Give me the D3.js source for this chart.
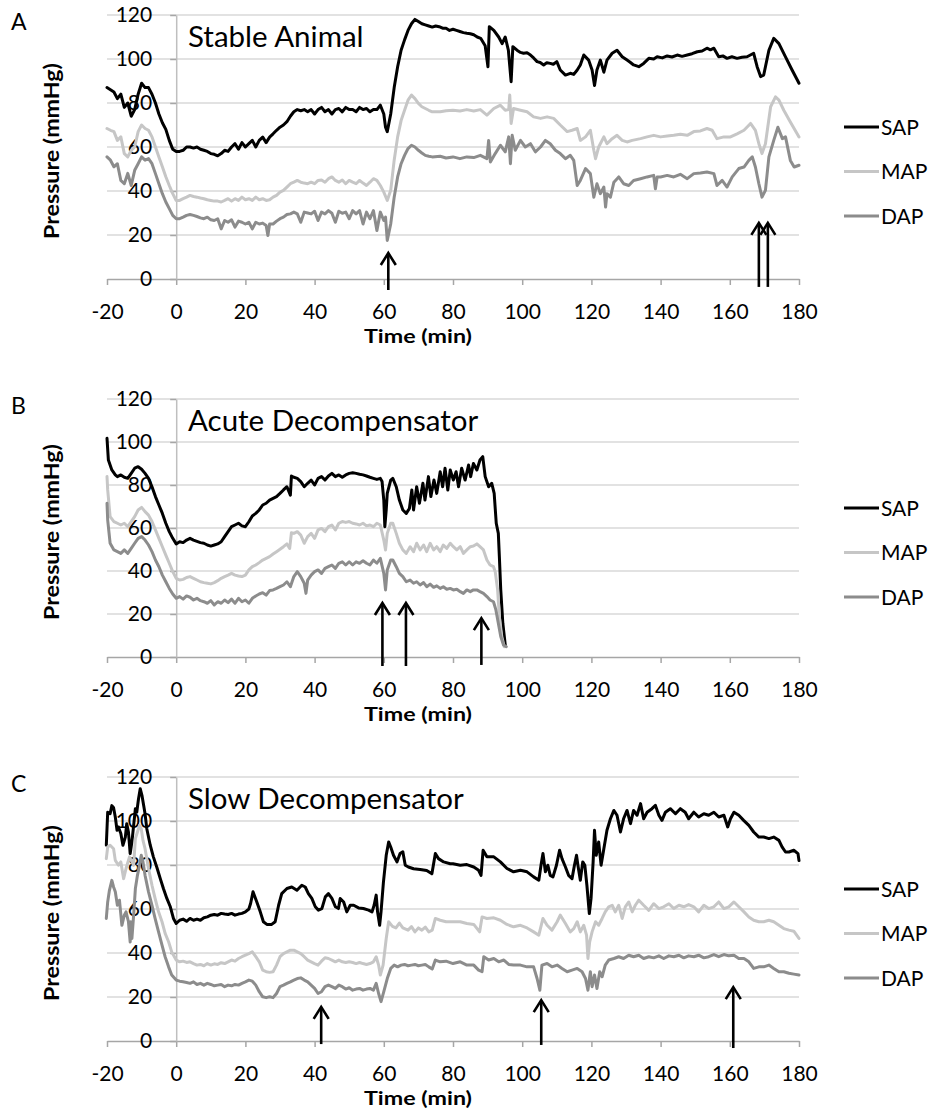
<!DOCTYPE html>
<html>
<head>
<meta charset="utf-8">
<script src="https://cdn.jsdelivr.net/npm/d3@7"></script>
<style>
  body { margin: 0; background: #fff; }
  svg { display: block; font-family: Lato, "Open Sans", sans-serif; }
</style>
</head>
<body>
<div id="chart"></div>
<script>
// axis ticks
const timeTicks = [-20, 0, 20, 40, 60, 80, 100, 120, 140, 160, 180];
const pressureTicks = [0, 20, 40, 60, 80, 100, 120];
const seriesNames = ["SAP", "MAP", "DAP"];

// [time (min), pressure (mmHg)]
// A - stable animal
const sapA = [[-20,87],[-19,86],[-18,85],[-17,82],[-16,84],[-15,78],[-14,80],[-13,74],[-12,77],[-11,84],[-10,89],[-9,87],[-8,87],[-7,84],[-6,80],[-5,75],[-4,71],[-3,68],[-2,63],[-1,59],[0,58],[1,58],[2,58.5],[3,60],[4,60],[5,59.5],[6,60],[7,59],[8,58.5],[9,58],[10,57],[11,56.7],[12,56],[13,57],[14,58.5],[15,58],[16,60],[17,61.5],[18,59],[19,62],[20,60],[21,61.5],[22,63],[23,60],[24,63],[25,64.5],[26,62],[27,64.5],[28,66],[29,67.6],[30,69],[31,70],[32,71.5],[33,74],[34,76],[35,77],[36,76.5],[37,77],[38,76],[39,77],[40,75],[41,77],[42,78],[43,76],[44,77],[45,75],[46,77],[47,77.5],[48,76],[49,78],[50,77],[51,77],[52,76],[53,78],[54,77],[55,77.5],[56,76],[57,77],[58,77],[59,79],[60,75],[60.5,69],[61,67],[62,75],[63,87],[64,96.5],[65,104],[66,108.7],[67,113],[68,116],[69,118],[70,117],[71,116],[72,115.5],[73,115],[74,114.5],[75,115],[76,114.7],[77,114],[78,114],[79,113],[80,113.5],[81,113],[82,112.5],[83,112],[84,111.7],[85,111.5],[86,111],[87,110],[88,109.4],[89.3,106],[90.1,96.5],[90.5,114.7],[91.8,113],[93.2,110],[94.2,107],[95.1,110],[96,104],[96.8,89.7],[97.3,105.6],[98.5,104],[99.5,103],[100.4,102.6],[101.4,102.8],[102.4,101.8],[103.3,100.5],[104.3,98.8],[105.2,98.4],[106.2,97.3],[107.1,98.3],[108.1,98],[109,97.6],[110,98.8],[111,95],[112.5,92.7],[113.9,93.5],[114.9,93],[115.9,95],[116.8,97.3],[117.8,101.8],[119.2,99.5],[120.2,95],[120.9,88],[121.6,95],[122.6,99.5],[123.6,94],[124.5,99.5],[126,102.6],[127.4,104],[128.9,101],[130.3,99.5],[131.2,98.5],[132.2,97.3],[133.7,96.5],[135.1,98],[136.6,100.3],[138,100],[139,101],[140.5,100.5],[141.9,101.4],[143.3,100.9],[144.8,101.8],[146.2,101.2],[147.7,101.8],[149.1,102.4],[150.6,103.3],[152,103.6],[153.4,104.9],[154.4,104.2],[155.4,104.9],[156.8,101],[158,101.4],[159.2,100.3],[160.6,101],[162.1,100.3],[163.5,100.8],[165,101],[166.9,102.6],[167.9,96.5],[168.9,92],[169.8,92.7],[171.3,104],[172.7,109.4],[174.2,107],[176.1,101],[178,95],[180,89]];
const mapA = [[-20,68.4],[-19,67.6],[-18,67],[-17,63],[-16,64.6],[-15,57],[-14,55.5],[-13,58.5],[-12,60],[-11,67],[-10,70],[-9,68.4],[-8,67.6],[-7,64.6],[-6,60],[-5,55.5],[-4,51],[-3,46.5],[-2,42.5],[-1,38.8],[0,35.7],[1,35.7],[2,36.5],[3,37.2],[4,38],[5,37.5],[6,37.2],[7,36.8],[8,36.5],[9,36],[10,35.7],[11,35.4],[12,35.4],[13,35],[14,35.7],[15,36.5],[16,35.4],[17,36.5],[18,35.7],[19,37.2],[20,36],[21,36.5],[22,35.7],[23,37.2],[24,36],[25,36.5],[26,35.7],[27,36],[28,37.2],[29,38],[30,39.5],[31,40.3],[32,41.8],[33,43.3],[34,44],[35,44.8],[36,44],[37,43.6],[38,43.3],[39,44],[40,43.3],[41,44.8],[42,45],[43,44],[44,45.6],[45,46.4],[46,44.8],[47,44],[48,45],[49,43.3],[50,44.8],[51,44],[52,43.3],[53,44.8],[54,43.6],[55,42.5],[56,44],[57,45.6],[58,44.8],[59,42.5],[60,39.5],[61,35.7],[62,40.3],[63,54],[64,64.6],[65,72],[66,76.7],[67,81.3],[68,83.6],[69,82],[70,79.8],[71,78.3],[72,77.5],[73,76.7],[74,76],[76.3,76],[78,76.5],[80,76.7],[82,76.4],[84,77],[86,76.4],[87.9,77],[89.8,74.5],[91.8,77.5],[93.7,79],[95.1,76.7],[96.1,77],[96.4,83.6],[96.8,70.7],[97.5,77.5],[99.5,76.7],[101.4,76],[103.3,73.7],[105.3,73],[107.2,73.7],[109.1,73],[111,70],[113,67],[114.4,67.6],[115.9,68.4],[116.8,63],[118.3,64.6],[119.7,67.6],[120.7,58.5],[121.2,54.7],[122.1,60],[123.6,64.6],[124.5,61.5],[126,63.8],[127.4,65.3],[128.9,63],[130.3,62.3],[131.8,63],[134.2,63.8],[136.1,64.6],[138,65.3],[140,64.6],[141.9,65],[143.8,65.3],[145.7,65.8],[147.7,65.3],[149.6,67],[151.5,67.3],[153.4,68.4],[154.9,67.6],[156.3,63.8],[158.3,64.6],[160.2,64.6],[162.1,66],[164.1,67.6],[166,70.7],[167.4,67.6],[168.4,61.5],[169.3,57],[170.3,61.5],[171.8,78.3],[173.2,82.8],[174.2,81.3],[175.6,76.7],[177.5,71.4],[180,64.6]];
const dapA = [[-20,55.5],[-19,54],[-18,51],[-17,52.4],[-16,44.8],[-15,43.3],[-14,48],[-13,42.5],[-12,49.4],[-11,52.4],[-10,55.5],[-9,54],[-8,54.7],[-7,52.4],[-6,47.9],[-5,43.3],[-4,38.8],[-3,35],[-2,32],[-1,28.9],[0,27.4],[1,27.4],[2,28.1],[3,28.9],[4,29.3],[5,28.9],[6,28.4],[7,27.8],[8,27.4],[9,28.1],[10,26.9],[11,26.6],[12,27.4],[13,22.8],[14,26.6],[15,25.8],[16,26.9],[17,23.6],[18,26.3],[19,25.8],[20,25],[21,25.8],[22,22.8],[23,25.8],[24,25],[25,25.4],[26,24.3],[26.5,19.8],[27,25],[28,25],[29,26.3],[30,27.4],[31,28.1],[32,29.3],[33,29.6],[34,30.4],[35,29.6],[36,25.8],[37,30.4],[38,30],[39,29.6],[40,30.8],[41,26.6],[42,30.4],[43,29.6],[44,31.1],[45,29.9],[46,25.8],[47,30.8],[48,29.9],[49,30.4],[50,27.4],[51,31.1],[52,29.6],[53,31.1],[54,25],[55,30.4],[56,27.4],[57,31.1],[58,22],[59,30.4],[60,26.6],[60.5,28.1],[61,17.5],[62,25],[63,37.2],[64,46.4],[65,52.4],[66,56.2],[67,59.3],[68,60.8],[69,60],[70,58.5],[71,57.3],[72,56.2],[73,55.8],[74,55.5],[76.3,55.8],[78,55],[80,55.5],[82,54.7],[84,55.5],[86,55.2],[87.9,56.2],[89.8,54.7],[90.3,63],[90.8,53.2],[92.2,57],[93.7,60.8],[95.1,57.8],[96.1,64.6],[96.6,52.4],[97.1,65.3],[98,58.5],[99.5,63],[100.9,60],[102.4,61.5],[103.8,57.8],[105.3,60],[106.7,63],[108.1,61.5],[109.6,58.5],[111,57],[112.5,54.7],[113.9,56.2],[114.9,53.9],[115.9,42.5],[116.8,44.8],[118.3,50.2],[119.7,47.9],[120.7,37.2],[121.6,43.3],[122.6,38.8],[123.6,41.8],[124.1,32.7],[124.5,38.8],[125.5,37.2],[126.5,44],[127.9,46.4],[129.3,43.3],[130.8,42.5],[132.2,44.8],[134.2,45.6],[136.1,46.4],[138,47.1],[138.5,41],[139,46.4],[140,46.4],[141.9,47.1],[143.8,46.4],[145.7,47.6],[147.7,45.6],[149.6,47.9],[151.5,48.2],[153.4,48.6],[155.4,47.9],[156.3,42.5],[157.8,44.8],[159.2,41.8],[160.7,46.4],[162.6,50.2],[164.1,50.9],[165.5,53.9],[166.5,55.5],[167.4,50.9],[168.4,43.3],[169.3,37.2],[170.3,40.3],[171.3,55.5],[172.7,63],[173.9,69],[175.2,63.8],[176.1,64.6],[177.5,53.9],[178.6,50.9],[180,51.7]];
const arrowsA = [[61.3, 11.8, -5], [168.4, 25.5, -3.6], [171, 25.5, -3.6]]; // [time, tip, base]

// B - acute decompensator
const sapB = [[-20,101.7],[-19.6,91.6],[-18.6,87],[-17.6,84.7],[-17,83.9],[-16,84.7],[-15,83.6],[-14,83.1],[-13,85.4],[-12,87.8],[-11,88.5],[-10,87.3],[-9,85.4],[-8,83.1],[-7,79.2],[-6,74.6],[-5,70.7],[-4,66.8],[-3,62.2],[-2,58.3],[-1,55.2],[0,52.6],[1,53.6],[2,53.2],[3,54.4],[4,55.2],[5,54.4],[6,53.8],[7,53.2],[8,52.9],[9,52.1],[10,51.6],[11,52.1],[12,52.6],[13,53.6],[14,56],[15,58.3],[16,60.6],[17,61.4],[18,62.2],[19,61],[20,60.6],[21,62.9],[22,65.6],[23,66.8],[24,68.4],[25,70.7],[26,71.5],[27,73],[28,73.8],[29,74.6],[30,76.1],[31,77.7],[32,79.2],[33,75.3],[33.3,84.2],[34,83.6],[35,83.1],[36,81.6],[37,79.2],[38,80.8],[39,82.3],[40,80],[41,83.1],[42,83.9],[43,82.3],[44,84.2],[45,85.4],[46,83.9],[47,84.7],[48,83.6],[49,84.7],[50,85.4],[51,85.7],[52,85.4],[53,85],[54,84.7],[55,84.2],[56,83.6],[57,83.1],[58,82.6],[59,83.1],[59.5,81.6],[60,73],[60.3,60.6],[60.7,68.4],[61,76.1],[62,82.3],[62.6,83.1],[63.6,79.2],[64.5,73],[65.5,68.4],[66.5,66.8],[67.4,69.1],[68.1,77.7],[68.6,68.4],[69.5,79.2],[70.3,71.5],[71.3,80.8],[71.9,73],[72.9,83.9],[73.6,74.6],[74.5,82.3],[75.3,76.1],[76.3,86.2],[77,79.2],[77.7,87.8],[78.5,77.7],[79.2,87],[80.1,82.3],[80.9,86.2],[81.6,79.2],[82.5,87.8],[83.5,82.3],[84.5,89.3],[85.1,83.9],[85.9,90],[86.9,87],[87.8,91.6],[88.6,93.2],[89.3,83.9],[90.3,79.2],[91.2,80.8],[91.9,76.1],[92.5,62.2],[93.1,57.5],[93.4,46.7],[93.8,31.2],[94.4,15.7],[95.1,5.6]];
const mapB = [[-20,83.9],[-19.8,77.7],[-19.1,65.3],[-18,63],[-17,62.2],[-16,61.4],[-15,62.2],[-14,60.6],[-13,63],[-12,65.3],[-11,68.4],[-10,69.6],[-9,67.6],[-8,66],[-7,63],[-6,59.1],[-5,55.2],[-4,51.3],[-3,47.4],[-2,43.6],[-1,39.7],[0,36.6],[1,35.8],[2,36.1],[3,37],[4,37.4],[5,36.6],[6,35.8],[7,35],[8,34.6],[9,34.3],[10,34],[11,34.6],[12,35.5],[13,36.6],[14,37.4],[15,38.1],[16,38.9],[17,38.1],[18,37.7],[19,37.4],[20,38.1],[21,40.5],[22,42],[23,42.8],[24,43.9],[25,45.1],[26,45.9],[27,46.7],[28,47.9],[29,49],[30,50.1],[31,51.3],[32,52.6],[32.8,50.5],[33.3,57.8],[34,57.5],[35,58.3],[36,56.7],[37,52.9],[38,56],[39,57.5],[40,55.2],[41,59.1],[42,59.8],[43,58.3],[44,60.6],[45,61.4],[46,59.1],[47,62.2],[48,63],[49,62.6],[50,63],[51,62.2],[52,61.9],[53,61.4],[54,62.2],[55,61],[56,61.4],[57,60.6],[58,62.2],[59,61.4],[60,54.4],[60.5,49.8],[61,57.5],[62,62.2],[62.6,62.2],[63.6,57.5],[64.5,52.9],[65.5,49.8],[66.5,48.2],[67.6,51.3],[68.6,49],[69.5,52.9],[70.5,49.8],[71.5,52.1],[72.4,49],[73.4,52.9],[74.4,49.8],[75.3,51.3],[76.3,49],[77.2,52.1],[78.2,50.5],[79.2,52.9],[80.1,51.3],[81.1,49.8],[82.1,51.3],[83,48.2],[84,49.8],[85,51.3],[85.9,51.6],[86.9,52.6],[87.8,51.3],[88.8,49.8],[89.8,45.1],[90.7,42.8],[91.7,42],[92.2,39.7],[92.9,31.2],[93.4,18.8],[94.1,9.5],[94.8,4.8]];
const dapB = [[-20,71.5],[-19.8,63.7],[-19.1,52.9],[-18,49.8],[-17,49],[-16,48.2],[-15,49.8],[-14,48.2],[-13,50.5],[-12,52.9],[-11,55.2],[-10,56],[-9,54.4],[-8,52.1],[-7,49],[-6,45.1],[-5,42],[-4,38.1],[-3,35],[-2,31.9],[-1,29.3],[0,27.3],[1,28.1],[2,26.9],[3,28.4],[4,27.8],[5,26.5],[6,27.3],[7,26.2],[8,25.7],[9,25],[10,26.2],[11,24.2],[12,25.7],[13,25],[14,26.5],[15,25.3],[16,26.9],[17,25],[18,27.3],[19,25.7],[20,26.5],[21,25],[22,27.3],[23,28.4],[24,29.3],[25,29.9],[26,28.8],[27,30.9],[28,31.2],[29,31.9],[30,32.7],[31,33.5],[32,35],[33,32.7],[34,37.4],[35,39.7],[36,37.4],[37,34.3],[37.5,29.6],[38,35.8],[39,38.1],[40,39.7],[41,40.5],[42,38.9],[43,41.2],[44,42],[45,42.8],[46,41.2],[47,43.6],[48,44.3],[49,42.8],[50,44.3],[51,42.8],[52,44.3],[53,43.6],[54,44.8],[55,43.6],[56,42.8],[57,45.1],[58,43.6],[59,45.9],[60,38.9],[60.5,31.2],[61,40.5],[62,45.1],[62.6,45.1],[63.6,42],[64.5,38.9],[65.5,37.4],[66.5,35],[67.6,35.8],[68.6,34.3],[69.5,35],[70.5,33.5],[71.5,34.6],[72.4,32.7],[73.4,33.9],[74.4,32.4],[75.3,33.1],[76.3,31.9],[77.2,32.7],[78.2,31.5],[79.2,31.9],[80.1,31.2],[81.1,31.5],[82.1,30.4],[83,29.6],[84,31.2],[85,30.4],[85.9,31.2],[86.9,31.2],[87.8,30.4],[88.8,29.6],[89.8,28.1],[90.7,26.5],[91.7,25.7],[92.4,21.9],[93.1,15.7],[93.8,9.5],[94.6,5.6],[95.4,4.8]];
const arrowsB = [[59.6, 25.1, -4.2], [66.4, 25.1, -4.2], [88.2, 18.1, -3.7]];

// C - slow decompensator
const sapC = [[-20.2,89],[-19.8,104],[-19.1,103.3],[-18.6,107],[-18.1,106],[-17.6,101.8],[-17.1,95.8],[-16.7,97.3],[-16,94.3],[-15.4,89],[-14.7,92.7],[-14.3,98.8],[-13.8,95],[-13.3,85.2],[-12.8,90.5],[-12.3,98],[-11.8,105.6],[-11.4,104],[-10.9,110],[-10.4,114.7],[-9.9,111.7],[-9.4,107],[-9,103.3],[-8.5,96.5],[-7.5,89],[-6.6,83.7],[-5.6,79],[-4.6,73.8],[-3.7,69.3],[-2.7,64.8],[-1.7,61],[-0.8,55.7],[0,53.4],[1,54.9],[2,55.4],[3,54.4],[4,55.7],[5,54.9],[6,55.4],[7,54.9],[8,56],[9,56.4],[10,57.2],[11,57.5],[12,57.2],[13,58],[14,57.7],[15,57.5],[16,58],[17,57.2],[18,57.7],[19,58],[20,58.7],[21,60],[21.5,62.5],[22.2,67.8],[23.3,63.2],[24.3,58.7],[25.2,54.2],[26.2,53],[27.6,53],[28.6,54.2],[29.6,61.7],[30.5,67],[32,69.3],[33.4,70],[34.9,68.5],[36.3,70.8],[37.3,70],[38.2,67],[39.2,64.8],[40.2,61],[41.1,59.5],[42.1,60.2],[43.1,65.5],[44,67],[45,64.8],[46,61],[46.9,60.2],[47.4,64.8],[48.4,63.2],[49.3,58.7],[50.3,61.7],[51.3,61.7],[52.7,60.5],[54.1,60.2],[55.6,59.5],[56.6,58.7],[57.2,61.7],[57.8,66.3],[58.2,58.7],[58.8,52.6],[59.2,58.7],[59.9,72.3],[60.7,84.4],[61.4,90.5],[62,88.2],[62.8,84.4],[63.8,81.4],[64.7,85.2],[65.5,86],[66.2,79.9],[67.1,79.1],[68.6,78.3],[70.5,78],[72.4,77.5],[73.9,76],[74.9,85.2],[75.8,82.9],[77.3,81.4],[79.2,80.6],[80,80.6],[82.1,79.9],[84,80.2],[86,79.1],[87.4,77.6],[88.1,75.3],[88.7,86.7],[89.8,83.7],[91.8,83.7],[93.7,81.4],[95.6,78.4],[97.5,76.9],[99.5,77.6],[101.4,76.9],[103.3,74.6],[104.8,73.1],[105.5,80.6],[106,85.2],[106.7,76.9],[107.4,79.9],[108.1,75.3],[108.9,74.6],[109.9,79.9],[110.8,86.7],[111.5,82.9],[112.5,79.1],[113.4,75.3],[114.4,73.8],[115.1,79.9],[115.7,84.4],[116.1,79.9],[116.8,73.1],[117.5,81.4],[118.1,79.9],[118.7,70.8],[119.4,57.9],[119.9,64.8],[120.5,81.4],[120.9,95.8],[121.4,84.4],[122.1,90.5],[122.8,79.9],[123.6,87.4],[124.5,95.8],[125.5,101],[126.5,104.8],[127.4,102.6],[128.4,95],[129.3,101],[130.3,104.8],[131.3,98.8],[132.2,104.8],[133.2,102.6],[134.2,107.9],[135.1,101],[136.1,104],[137.5,105.6],[138.5,107.1],[139.5,102.6],[140.4,100.3],[141.4,104],[142.8,105.6],[144.3,103.3],[145.7,105.6],[147.1,104],[148.1,101],[149.6,104],[151,101.8],[152.5,103.3],[153.9,102.6],[155.4,104],[156.8,101.8],[158.3,102.6],[159.4,97.3],[160.2,101],[161.2,104],[162.6,102.6],[164,100.3],[165.5,98],[166.9,95],[168.4,92.7],[169.8,92.7],[171.3,92],[172.7,92.7],[174.2,91.2],[175.1,88.2],[176.1,85.9],[177.1,85.9],[178.5,86.7],[179.7,85.2],[180,82]];
const mapC = [[-20.2,82.9],[-19.8,88.2],[-19.1,89],[-18.1,87.4],[-17.6,82.1],[-16.7,79.9],[-16,81.4],[-15.2,73.8],[-14.5,78.4],[-13.5,83.7],[-12.8,81.4],[-12.3,79.9],[-11.8,92],[-11.2,95],[-10.6,98],[-10.1,96.5],[-9.6,91.2],[-9,87.4],[-8,78.4],[-7,70.8],[-6.1,64.8],[-5.1,58.7],[-4.1,54.2],[-3.2,48.9],[-2.2,45.1],[-1.3,40.5],[0,36.8],[1,36],[2,36.3],[3,35.7],[4,36],[5,35.2],[6,34.5],[7,34.8],[8,34.2],[9,35.2],[10,34.5],[11,35.1],[12,34.8],[13,35.6],[14,35.2],[15,36],[16,36.8],[17,36.3],[18,37.5],[19,38.3],[20,39],[21,39.7],[22,40.5],[23,38.3],[24,36],[25,32.2],[26,31.5],[27,31.2],[28,31.5],[29,34.5],[30,38.3],[31,39.7],[32,40.5],[33,41.3],[34,41.3],[35,40.5],[36,39.7],[37,38.3],[38,36.8],[39,36],[40,35.2],[41,34.5],[42,36.3],[43,37.8],[44,37.5],[45,36.8],[46,36],[47,36.8],[48,36],[49,35.7],[50,36],[51,35.7],[52,35.2],[53,35.7],[54,35.2],[55,34.8],[56,35.2],[57,36],[57.8,38.3],[58.5,34.5],[59,30],[59.8,34.5],[60.7,46.6],[61.4,54.2],[62.5,52.1],[63.5,51.4],[64.5,53.6],[65.5,51.4],[67,50.4],[68,52],[69,49.6],[70,51.4],[71,50.4],[72,51.8],[73,49.6],[74,50.4],[74.9,55.7],[76.3,54.9],[78,54.2],[80,54.2],[82.1,54.2],[84,53.4],[86,53],[87.7,49.6],[88.4,56.4],[89.8,55.7],[91.8,56],[93.7,54.9],[95.6,53],[97.5,51.9],[99.5,52.6],[101.4,51.4],[103.3,49.6],[104.8,48.1],[106,55.7],[107.2,52.6],[108.6,50.4],[110.1,54.2],[111,57.2],[112.5,53.4],[113.9,49.6],[114.9,51.1],[115.9,54.2],[116.8,49.6],[117.8,52.6],[118.6,48.1],[119,37.5],[119.5,45.1],[120.2,49.6],[121.2,54.2],[122.1,52.6],[123.1,55.7],[124,58.7],[125,61],[126,61.7],[126.9,58.7],[127.9,61.7],[128.9,55.7],[129.8,61],[130.8,63.2],[131.8,58.7],[132.7,61.7],[133.7,64],[135.1,61.7],[136.6,59.4],[138,62.4],[139.5,60.2],[140.9,61],[142.4,62.4],[143.8,60.2],[145.3,61.7],[146.7,61],[148.1,62],[149.6,61],[151,58.7],[152.5,61.7],[153.9,60.2],[155.4,61],[156.8,63.2],[158.3,60.2],[159.7,61],[161.2,63.2],[162.6,61],[164.1,58.7],[165.5,56.4],[166.9,54.9],[168.4,54.2],[169.8,54.2],[171.3,54.9],[172.7,54.2],[174.2,52.6],[175.6,51.1],[177.1,50.4],[178.5,49.9],[180,46.6]];
const dapC = [[-20.2,55.7],[-19.8,63.2],[-19.3,68.5],[-18.6,73],[-18.1,70],[-17.6,67.8],[-17,61.7],[-16.4,64],[-15.7,52.6],[-15,57.2],[-14.5,58.7],[-13.8,54.2],[-13.3,45],[-13.1,54.2],[-12.8,46.6],[-12.3,57.2],[-11.8,69.3],[-11.2,75.3],[-10.6,79.9],[-10.1,84.4],[-9.6,81.4],[-9,75.3],[-8,67.8],[-7,61.7],[-6.1,55.7],[-5.1,49.6],[-4.1,43.6],[-3.2,38.3],[-2.2,33.7],[-1.3,30],[0,27.7],[1,27.2],[2,26.9],[3,26.6],[4,26.2],[5,26.9],[6,25.7],[7,26.2],[8,25.4],[9,26.2],[10,25.7],[11,25.1],[12,25.4],[13,25.7],[14,24.7],[15,25.4],[16,25.1],[17,25.7],[18,25.4],[19,26.2],[20,26.9],[21,27.7],[22,27.2],[23,25.4],[24,22.4],[25,20.1],[26,19.7],[27,20.1],[28,19.7],[29,21.6],[30,24.7],[31,25.4],[32,26.2],[33,26.9],[34,27.7],[35,28.4],[36,28.7],[37,27.7],[38,26.9],[39,25.4],[40,23.9],[41,21.6],[42,22.4],[43,24.7],[44,25.4],[45,24.7],[46,23.9],[47,25.4],[48,24.7],[49,23.6],[50,24.2],[51,23.1],[52,23.6],[53,23.9],[54,23.1],[55,23.6],[56,23.9],[57,23.1],[57.8,26.2],[58.5,21.6],[59.2,17.9],[60,22.4],[61,28.4],[62,33],[63,34.5],[64,33.7],[65,34.5],[66,34.8],[67,34.2],[68,34.5],[69,34.8],[70,34.2],[71,34.5],[72,34.8],[73,33.7],[74,32.7],[74.9,36.8],[76.3,36],[78,36.3],[80,35.2],[82.1,36],[84,34.5],[86,34.5],[87.4,32.2],[88.4,31.5],[88.9,38.3],[90.3,36.8],[91.8,37.5],[93.2,36],[94.7,36.8],[96.1,34.8],[97.5,34.5],[99.5,34.5],[101.4,33.7],[103.3,33.7],[104.3,28.4],[105.1,23.1],[105.7,34.5],[107.2,35.2],[108.6,33.7],[110.1,34.5],[111.5,33],[113,31.5],[114.4,32.2],[115.9,33],[117.3,31.5],[118.3,28.4],[119,23.1],[119.7,31.5],[120.2,24.7],[120.9,30],[121.6,23.9],[122.4,31.5],[123.1,29.2],[124,34.5],[125,36.8],[126.5,37.5],[127.9,38.3],[129.3,37.5],[130.8,39],[132.2,38.3],[133.7,39],[135.1,37.5],[136.6,38.3],[138,37.8],[139.5,38.7],[140.9,37.5],[142.4,38.7],[143.8,38.3],[145.3,39],[146.7,37.8],[148.1,38.7],[149.6,38.3],[151,39],[152.5,37.8],[153.9,38.3],[155.4,39.3],[156.8,38.3],[158.3,39.3],[159.7,38.7],[161.2,39],[162.6,37.5],[164.1,37.5],[165.5,36],[166.9,33],[168.4,33.7],[169.8,33.7],[171.3,34.5],[172.7,33],[174.2,31.5],[175.6,31.5],[177.1,30.8],[178.5,30.4],[180,30]];
const arrowsC = [[41.9, 15.5, -1.4], [105.5, 18.6, -1.8], [161, 24.5, -3.2]];

const panels = [
  { letter: "A", title: "Stable Animal", series: [sapA, mapA, dapA], arrows: arrowsA, top: 15, bottom: 279 },
  { letter: "B", title: "Acute Decompensator", series: [sapB, mapB, dapB], arrows: arrowsB, top: 399, bottom: 657 },
  { letter: "C", title: "Slow Decompensator", series: [sapC, mapC, dapC], arrows: arrowsC, top: 777, bottom: 1041 }
];

const colors = ["#000000", "#c6c6c6", "#8c8c8c"];
const width = 932, height = 1110;

const svg = d3.select("#chart").append("svg")
  .attr("width", width)
  .attr("height", height);

svg.append("rect").attr("width", width).attr("height", height).attr("fill", "#fff");

const x = d3.scaleLinear().domain([-20, 180]).range([107, 799]);

panels.forEach(function (p) {
  const y = d3.scaleLinear().domain([0, 120]).range([p.bottom, p.top]);
  const g = svg.append("g");

  // gridlines
  g.append("g")
    .selectAll("line")
    .data(pressureTicks.filter(d => d > 0))
    .enter().append("line")
    .attr("x1", x(-20)).attr("x2", x(180))
    .attr("y1", d => y(d)).attr("y2", d => y(d))
    .attr("stroke", "#d9d9d9")
    .attr("stroke-width", 1.5);

  // x axis on the zero line (plain hyphen for negatives, like the original)
  g.append("g")
    .attr("transform", "translate(0," + y(0) + ")")
    .call(d3.axisBottom(x).tickValues(timeTicks).tickFormat(d => String(d))
      .tickSize(6).tickSizeOuter(0).tickPadding(19))
    .attr("font-family", null)
    .attr("font-size", 21)
    .call(a => a.select(".domain").attr("stroke", "#a6a6a6").attr("stroke-width", 1.5))
    .call(a => a.selectAll(".tick line").attr("stroke", "#a6a6a6").attr("stroke-width", 1.5))
    .call(a => a.selectAll(".tick text").attr("fill", "#000"));

  // y axis crosses at time 0
  g.append("g")
    .attr("transform", "translate(" + x(0) + ",0)")
    .call(d3.axisLeft(y).tickValues(pressureTicks).tickFormat(d => String(d))
      .tickSize(6).tickSizeOuter(0).tickPadding(18))
    .attr("font-family", null)
    .attr("font-size", 21)
    .call(a => a.select(".domain").attr("stroke", "#bfbfbf").attr("stroke-width", 1.5))
    .call(a => a.selectAll(".tick line").attr("stroke", "#a6a6a6").attr("stroke-width", 1.5))
    .call(a => a.selectAll(".tick text").attr("fill", "#000"));

  // axis titles
  g.append("text")
    .attr("x", 418)
    .attr("y", y(0) + 64)
    .attr("text-anchor", "middle")
    .attr("textLength", 108)
    .attr("lengthAdjust", "spacingAndGlyphs")
    .style("font-size", "19px")
    .style("font-weight", "bold")
    .text("Time (min)");

  const midY = (p.top + p.bottom) / 2 + 4;
  g.append("text")
    .attr("transform", "translate(59," + midY + ") rotate(-90)")
    .attr("text-anchor", "middle")
    .attr("textLength", 176)
    .attr("lengthAdjust", "spacingAndGlyphs")
    .style("font-size", "20px")
    .style("font-weight", "bold")
    .text("Pressure (mmHg)");

  // series
  const line = d3.line()
    .x(d => x(d[0]))
    .y(d => y(d[1]));

  p.series.forEach(function (s, i) {
    g.append("path")
      .datum(s)
      .attr("fill", "none")
      .attr("stroke", colors[i])
      .attr("stroke-width", 3)
      .attr("stroke-linejoin", "round")
      .attr("stroke-linecap", "round")
      .attr("d", line);
  });

  // arrows
  p.arrows.forEach(function (a) {
    const ax = x(a[0]), tip = y(a[1]), base = y(a[2]);
    g.append("line")
      .attr("x1", ax).attr("x2", ax)
      .attr("y1", base).attr("y2", tip + 1)
      .attr("stroke", "#000")
      .attr("stroke-width", 2.6);
    g.append("path")
      .attr("d", "M" + (ax - 7.5) + "," + (tip + 12) + "L" + ax + "," + tip + "L" + (ax + 7.5) + "," + (tip + 12))
      .attr("fill", "none")
      .attr("stroke", "#000")
      .attr("stroke-width", 2.6);
  });

  // title and letter
  g.append("text")
    .attr("x", 188)
    .attr("y", p.top + 32)
    .style("font-size", "29.5px")
    .text(p.title);

  g.append("text")
    .attr("x", 11)
    .attr("y", p.top + 15)
    .style("font-size", "23px")
    .text(p.letter);

  // legend
  const legY = (p.top + p.bottom) / 2 - 20;
  seriesNames.forEach(function (name, i) {
    const ly = legY + i * 44.5;
    g.append("line")
      .attr("x1", 844).attr("x2", 879)
      .attr("y1", ly).attr("y2", ly)
      .attr("stroke", colors[i])
      .attr("stroke-width", 3);
    g.append("text")
      .attr("x", 881)
      .attr("y", ly)
      .attr("dy", "0.36em")
      .style("font-size", "21px")
      .text(name);
  });
});
</script>
</body>
</html>
